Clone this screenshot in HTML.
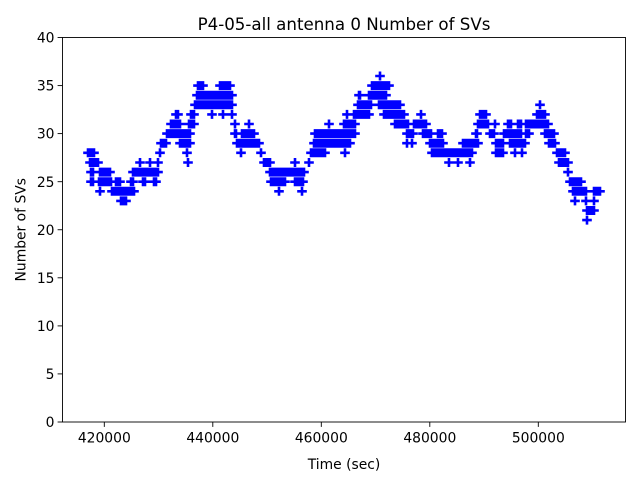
<!DOCTYPE html>
<html>
<head>
<meta charset="utf-8">
<style>
html,body{margin:0;padding:0;background:#fff;}
svg{display:block;}
text{font-family:"DejaVu Sans","Liberation Sans",sans-serif;fill:#000;}
</style>
</head>
<body>
<svg width="640" height="480" viewBox="0 0 640 480" xmlns="http://www.w3.org/2000/svg">
<rect x="0" y="0" width="640" height="480" fill="#fff"/>

<!-- data markers: horizontal arms -->
<path fill="none" stroke="#0000ff" stroke-width="2.6" d="
M375.2 76H384.8
M193.2 85.6H207.8 M215.2 85.6H234.8 M367.2 85.6H393.8
M192.2 95.2H236.8 M354.2 95.2H364.8 M364.2 95.2H390.8
M190.2 104.8H236.8 M353.2 104.8H375.8 M374.2 104.8H404.8 M535.2 104.8H544.8
M171.2 114.4H182.8 M186.2 114.4H198.8 M207.2 114.4H216.8 M218.2 114.4H227.8 M227.2 114.4H236.8 M342.2 114.4H351.8 M349.2 114.4H373.8 M379.2 114.4H408.8 M416.2 114.4H425.8 M475.2 114.4H490.8 M532.2 114.4H549.8
M166.2 124H184.8 M184.2 124H198.8 M230.2 124H239.8 M244.2 124H253.8 M324.2 124H333.8 M339.2 124H359.8 M390.2 124H412.8 M409.2 124H430.8 M473.2 124H492.8 M490.2 124H499.8 M503.2 124H515.8 M513.2 124H525.8 M521.2 124H552.8
M162.2 133.6H194.8 M230.2 133.6H240.8 M237.2 133.6H258.8 M310.2 133.6H359.8 M402.2 133.6H417.8 M418.2 133.6H435.8 M433.2 133.6H446.8 M471.2 133.6H481.8 M485.2 133.6H498.8 M499.2 133.6H525.8 M521.2 133.6H533.8 M540.2 133.6H558.8
M156.2 143.2H170.8 M175.2 143.2H194.8 M232.2 143.2H263.8 M309.2 143.2H354.8 M402.2 143.2H411.8 M407.2 143.2H416.8 M425.2 143.2H447.8 M458.2 143.2H482.8 M491.2 143.2H507.8 M505.2 143.2H529.8 M544.2 143.2H559.8
M83.2 152.8H98.8 M155.2 152.8H164.8 M182.2 152.8H191.8 M236.2 152.8H245.8 M256.2 152.8H265.8 M306.2 152.8H329.8 M340.2 152.8H349.8 M427.2 152.8H476.8 M491.2 152.8H507.8 M510.2 152.8H519.8 M517.2 152.8H526.8 M552.2 152.8H569.8
M85.2 162.5H102.8 M135.2 162.5H144.8 M145.2 162.5H154.8 M153.2 162.5H162.8 M183.2 162.5H192.8 M259.2 162.5H274.8 M290.2 162.5H299.8 M304.2 162.5H313.8 M444.2 162.5H453.8 M453.2 162.5H462.8 M465.2 162.5H474.8 M554.2 162.5H572.8
M86.2 172.1H97.8 M95.2 172.1H114.8 M128.2 172.1H162.8 M265.2 172.1H308.8 M563.2 172.1H572.8
M86.2 181.7H97.8 M94.2 181.7H115.8 M111.2 181.7H124.8 M126.2 181.7H137.8 M138.2 181.7H149.8 M149.2 181.7H160.8 M266.2 181.7H289.8 M290.2 181.7H307.8 M565.2 181.7H585.8
M95.2 191.3H104.8 M107.2 191.3H138.8 M274.2 191.3H283.8 M297.2 191.3H306.8 M568.2 191.3H590.8 M589.2 191.3H604.8
M116.2 200.9H130.8 M570.2 200.9H579.8 M581.2 200.9H590.8 M589.2 200.9H598.8
M582.2 210.5H598.8
M582.2 220.1H591.8
"/>
<!-- data markers: vertical arms (merged blocks) -->
<path fill="none" stroke="#0000ff" stroke-width="9.0" d="
M378.7 76H381.3
M196.7 85.6H204.3 M218.7 85.6H231.3 M370.7 85.6H390.3
M195.7 95.2H233.3 M357.7 95.2H361.3 M367.7 95.2H387.3
M193.7 104.8H233.3 M356.7 104.8H372.3 M377.7 104.8H401.3 M538.7 104.8H541.3
M174.7 114.4H179.3 M189.7 114.4H195.3 M210.7 114.4H213.3 M221.7 114.4H224.3 M230.7 114.4H233.3 M345.7 114.4H348.3 M352.7 114.4H370.3 M382.7 114.4H405.3 M419.7 114.4H422.3 M478.7 114.4H487.3 M535.7 114.4H546.3
M169.7 124H181.3 M187.7 124H195.3 M233.7 124H236.3 M247.7 124H250.3 M327.7 124H330.3 M342.7 124H356.3 M393.7 124H409.3 M412.7 124H427.3 M476.7 124H489.3 M493.7 124H496.3 M506.7 124H512.3 M516.7 124H522.3 M524.7 124H549.3
M165.7 133.6H191.3 M233.7 133.6H237.3 M240.7 133.6H255.3 M313.7 133.6H356.3 M405.7 133.6H414.3 M421.7 133.6H432.3 M436.7 133.6H443.3 M474.7 133.6H478.3 M488.7 133.6H495.3 M502.7 133.6H522.3 M524.7 133.6H530.3 M543.7 133.6H555.3
M159.7 143.2H167.3 M178.7 143.2H191.3 M235.7 143.2H260.3 M312.7 143.2H351.3 M405.7 143.2H408.3 M410.7 143.2H413.3 M428.7 143.2H444.3 M461.7 143.2H479.3 M494.7 143.2H504.3 M508.7 143.2H526.3 M547.7 143.2H556.3
M86.7 152.8H95.3 M158.7 152.8H161.3 M185.7 152.8H188.3 M239.7 152.8H242.3 M259.7 152.8H262.3 M309.7 152.8H326.3 M343.7 152.8H346.3 M430.7 152.8H473.3 M494.7 152.8H504.3 M513.7 152.8H516.3 M520.7 152.8H523.3 M555.7 152.8H566.3
M88.7 162.5H99.3 M138.7 162.5H141.3 M148.7 162.5H151.3 M156.7 162.5H159.3 M186.7 162.5H189.3 M262.7 162.5H271.3 M293.7 162.5H296.3 M307.7 162.5H310.3 M447.7 162.5H450.3 M456.7 162.5H459.3 M468.7 162.5H471.3 M557.7 162.5H569.3
M89.7 172.1H94.3 M98.7 172.1H111.3 M131.7 172.1H159.3 M268.7 172.1H305.3 M566.7 172.1H569.3
M89.7 181.7H94.3 M97.7 181.7H112.3 M114.7 181.7H121.3 M129.7 181.7H134.3 M141.7 181.7H146.3 M152.7 181.7H157.3 M269.7 181.7H286.3 M293.7 181.7H304.3 M568.7 181.7H582.3
M98.7 191.3H101.3 M110.7 191.3H135.3 M277.7 191.3H280.3 M300.7 191.3H303.3 M571.7 191.3H587.3 M592.7 191.3H601.3
M119.7 200.9H127.3 M573.7 200.9H576.3 M584.7 200.9H587.3 M592.7 200.9H595.3
M585.7 210.5H595.3
M585.7 220.1H588.3
"/>

<!-- axes frame -->
<rect x="62.5" y="37.5" width="563" height="384.5" fill="none" stroke="#000" stroke-width="0.9"/>

<!-- x ticks -->
<g stroke="#000" stroke-width="0.9">
<line x1="104.3" y1="422" x2="104.3" y2="426.9"/>
<line x1="212.8" y1="422" x2="212.8" y2="426.9"/>
<line x1="321.3" y1="422" x2="321.3" y2="426.9"/>
<line x1="429.8" y1="422" x2="429.8" y2="426.9"/>
<line x1="538.3" y1="422" x2="538.3" y2="426.9"/>
<!-- y ticks -->
<line x1="57.6" y1="422" x2="62.5" y2="422"/>
<line x1="57.6" y1="373.9" x2="62.5" y2="373.9"/>
<line x1="57.6" y1="325.9" x2="62.5" y2="325.9"/>
<line x1="57.6" y1="277.8" x2="62.5" y2="277.8"/>
<line x1="57.6" y1="229.75" x2="62.5" y2="229.75"/>
<line x1="57.6" y1="181.7" x2="62.5" y2="181.7"/>
<line x1="57.6" y1="133.6" x2="62.5" y2="133.6"/>
<line x1="57.6" y1="85.6" x2="62.5" y2="85.6"/>
<line x1="57.6" y1="37.5" x2="62.5" y2="37.5"/>
</g>

<g font-size="13.89" text-anchor="middle">
<text x="104.3" y="442.3">420000</text>
<text x="212.8" y="442.3">440000</text>
<text x="321.3" y="442.3">460000</text>
<text x="429.8" y="442.3">480000</text>
<text x="538.3" y="442.3">500000</text>
</g>
<g font-size="13.89" text-anchor="end">
<text x="54.5" y="427.1">0</text>
<text x="54.5" y="379">5</text>
<text x="54.5" y="331">10</text>
<text x="54.5" y="282.9">15</text>
<text x="54.5" y="234.85">20</text>
<text x="54.5" y="186.8">25</text>
<text x="54.5" y="138.7">30</text>
<text x="54.5" y="90.7">35</text>
<text x="54.5" y="42.6">40</text>
</g>

<text x="344" y="469" font-size="13.89" text-anchor="middle">Time (sec)</text>
<text transform="translate(25.5,229.75) rotate(-90)" font-size="13.89" text-anchor="middle">Number of SVs</text>
<text x="344" y="30" font-size="16.67" text-anchor="middle">P4-05-all antenna 0 Number of SVs</text>
</svg>
</body>
</html>
